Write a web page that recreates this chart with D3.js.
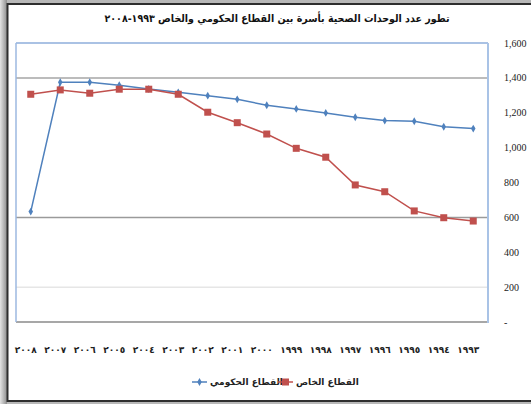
<!DOCTYPE html>
<html lang="ar">
<head>
    <meta charset="UTF-8">
    <title>تطور عدد الوحدات الصحية</title>
    <script src="https://d3js.org/d3.v7.min.js"></script>
    <style>
        html, body {
            margin: 0;
            padding: 0;
            overflow: hidden;
            background: #ffffff;
        }
        svg { display: block; }
    </style>
</head>
<body>
    <svg id="chart" width="531" height="404"></svg>
    <script>
        // data, left to right as in the picture (2008 ... 1993)
        const years = ["٢٠٠٨", "٢٠٠٧", "٢٠٠٦", "٢٠٠٥", "٢٠٠٤", "٢٠٠٣", "٢٠٠٢", "٢٠٠١",
                       "٢٠٠٠", "١٩٩٩", "١٩٩٨", "١٩٩٧", "١٩٩٦", "١٩٩٥", "١٩٩٤", "١٩٩٣"];
        const govValues = [633, 1375, 1375, 1358, 1336, 1317, 1298, 1277,
                           1243, 1222, 1199, 1174, 1155, 1151, 1120, 1109];
        const privValues = [1306, 1331, 1312, 1335, 1335, 1306, 1203, 1143,
                            1078, 996, 945, 786, 747, 637, 598, 579];
        const yTicks = [0, 200, 400, 600, 800, 1000, 1200, 1400, 1600];
        const seriesNames = ["القطاع الحكومي", "القطاع الخاص"];
        const title = "تطور عدد الوحدات الصحية بأسرة بين القطاع الحكومي والخاص ١٩٩٣-٢٠٠٨";

        const arabicFont = "'DejaVu Sans', 'Noto Sans', sans-serif";
        const blue = "#4f81bd";
        const red = "#c0504d";

        const svg = d3.select("#chart");

        // grey shadow around the frame
        const defs = svg.append("defs");
        const shade = defs.append("linearGradient").attr("id", "shade")
            .attr("x1", 0).attr("x2", 1).attr("y1", 0).attr("y2", 0);
        shade.append("stop").attr("offset", "0%").attr("stop-color", "#e4e4e4");
        shade.append("stop").attr("offset", "100%").attr("stop-color", "#8e8e8e");
        svg.append("rect").attr("width", 531).attr("height", 404).attr("fill", "#b8b8b8");
        svg.append("rect").attr("width", 7).attr("height", 404).attr("fill", "url(#shade)");

        // outer frame
        svg.append("rect")
            .attr("x", 7.5).attr("y", 4).attr("width", 540).attr("height", 397)
            .attr("fill", "#ffffff").attr("stroke", "#2e2e2e").attr("stroke-width", 2);

        const plot = { left: 16, right: 488, top: 43, bottom: 322 };

        const x = d3.scaleBand().domain(years).range([plot.left, plot.right]);
        const y = d3.scaleLinear().domain([0, 1600]).range([plot.bottom, plot.top]);

        // gridlines (only some show in the original)
        const gridStyle = { 200: "#e6e6e6", 600: "#9a9a9a", 1400: "#a6a6a6" };
        svg.append("g")
            .selectAll("line")
            .data(yTicks.filter(t => gridStyle[t]))
            .enter().append("line")
            .attr("x1", plot.left).attr("x2", plot.right)
            .attr("y1", d => y(d)).attr("y2", d => y(d))
            .attr("stroke", d => gridStyle[d])
            .attr("stroke-width", 1.5);

        // plot area borders
        svg.append("line")
            .attr("x1", plot.left).attr("x2", plot.right)
            .attr("y1", y(0)).attr("y2", y(0))
            .attr("stroke", "#8a8a8a").attr("stroke-width", 1.5);
        svg.append("line")
            .attr("x1", plot.left).attr("x2", plot.right)
            .attr("y1", y(1600)).attr("y2", y(1600))
            .attr("stroke", "#8eaedb").attr("stroke-width", 1.5);
        svg.append("line")
            .attr("x1", plot.left).attr("x2", plot.left)
            .attr("y1", y(1600)).attr("y2", y(0))
            .attr("stroke", "#9cb9e0").attr("stroke-width", 1.5);
        svg.append("line")
            .attr("x1", plot.right).attr("x2", plot.right)
            .attr("y1", y(1600)).attr("y2", y(0) + 1)
            .attr("stroke", "#a9c3e6").attr("stroke-width", 2);

        // y axis labels on the right
        const fmt = d3.format(",");
        svg.append("g")
            .selectAll("text")
            .data(yTicks)
            .enter().append("text")
            .attr("x", 504)
            .attr("y", d => y(d) + 3.5)
            .attr("font-family", "'Liberation Serif', serif")
            .attr("font-size", "10px")
            .attr("fill", "#222")
            .text(d => d === 0 ? "-" : fmt(d));

        // x axis labels
        svg.append("g")
            .selectAll("text")
            .data(years)
            .enter().append("text")
            .attr("x", d => x(d) + x.bandwidth() / 2 - 5)
            .attr("y", 353)
            .attr("text-anchor", "middle")
            .attr("font-family", arabicFont)
            .attr("font-weight", "bold")
            .attr("font-size", "9px")
            .attr("fill", "#222")
            .text(d => d);

        const cx = (d, i) => x(years[i]) + x.bandwidth() / 2;
        const line = vals => d3.line()
            .x((d, i) => cx(d, i))
            .y(d => y(d))(vals);

        // government series
        svg.append("path")
            .attr("d", line(govValues))
            .attr("fill", "none").attr("stroke", blue).attr("stroke-width", 1.5);
        svg.append("g")
            .selectAll("path")
            .data(govValues)
            .enter().append("path")
            .attr("d", d3.symbol(d3.symbolDiamond, 18))
            .attr("transform", (d, i) => `translate(${cx(d, i)},${y(d)})`)
            .attr("fill", blue);

        // private series
        svg.append("path")
            .attr("d", line(privValues))
            .attr("fill", "none").attr("stroke", red).attr("stroke-width", 1.5);
        svg.append("g")
            .selectAll("rect")
            .data(privValues)
            .enter().append("rect")
            .attr("x", (d, i) => cx(d, i) - 3.5)
            .attr("y", d => y(d) - 3.5)
            .attr("width", 7).attr("height", 7)
            .attr("fill", red);

        // title
        svg.append("text")
            .attr("x", 277)
            .attr("y", 22)
            .attr("text-anchor", "middle")
            .attr("direction", "rtl")
            .attr("font-family", arabicFont)
            .attr("font-weight", "bold")
            .attr("font-size", "10.5px")
            .attr("textLength", 345)
            .attr("lengthAdjust", "spacingAndGlyphs")
            .attr("fill", "#111")
            .text(title);

        // legend
        const legend = svg.append("g").attr("transform", "translate(0,382)");
        const items = [
            { name: seriesNames[0], color: blue, mark: "diamond", x: 192 },
            { name: seriesNames[1], color: red, mark: "square", x: 278 }
        ];
        items.forEach(it => {
            legend.append("line")
                .attr("x1", it.x).attr("x2", it.x + 15)
                .attr("y1", 0).attr("y2", 0)
                .attr("stroke", it.color).attr("stroke-width", 1.5);
            if (it.mark === "diamond") {
                legend.append("path")
                    .attr("d", d3.symbol(d3.symbolDiamond, 18))
                    .attr("transform", `translate(${it.x + 7.5},0)`)
                    .attr("fill", it.color);
            } else {
                legend.append("rect")
                    .attr("x", it.x + 4).attr("y", -3.5)
                    .attr("width", 7).attr("height", 7)
                    .attr("fill", it.color);
            }
            legend.append("text")
                .attr("x", it.x + 18)
                .attr("y", 3)
                .attr("font-family", arabicFont)
                .attr("font-weight", "bold")
                .attr("font-size", "9px")
                .attr("fill", "#222")
                .text(it.name);
        });
    </script>
</body>
</html>
